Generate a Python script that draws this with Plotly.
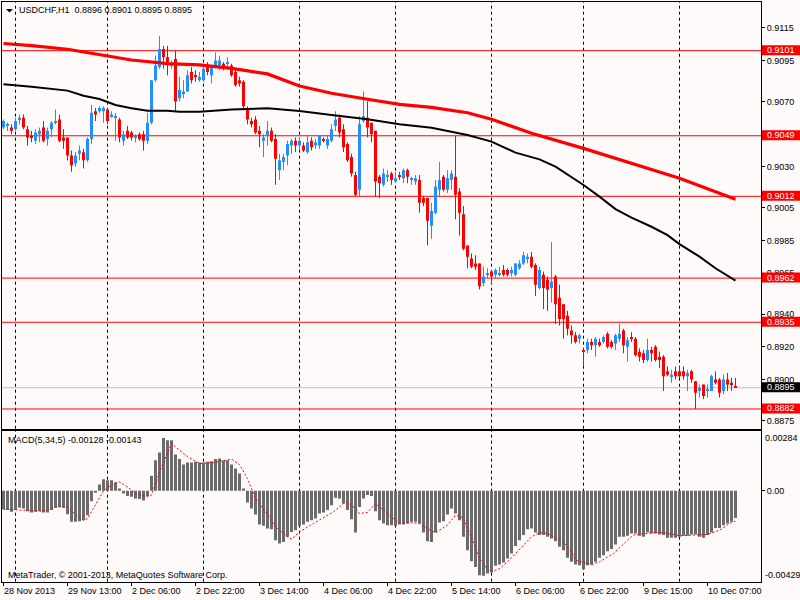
import plotly.graph_objects as go

# ---------------- data ----------------
bar_open = [
    0.9054, 0.9055, 0.9054, 0.9053, 0.9059, 0.9060, 0.9053, 0.9049, 0.9046, 0.9050,
    0.9054, 0.9047, 0.9053, 0.9057, 0.9059, 0.9048, 0.9048, 0.9037, 0.9032, 0.9038,
    0.9039, 0.9034, 0.9047, 0.9064, 0.9064, 0.9064, 0.9065, 0.9061, 0.9060, 0.9059,
    0.9046, 0.9052, 0.9051, 0.9048, 0.9050, 0.9050, 0.9046, 0.9057, 0.9083, 0.9091,
    0.9102, 0.9097, 0.9092, 0.9096, 0.9072, 0.9075, 0.9076, 0.9088, 0.9086, 0.9083,
    0.9083, 0.9092, 0.9086, 0.9091, 0.9092, 0.9093, 0.9093, 0.9092, 0.9088, 0.9083,
    0.9082, 0.9066, 0.9058, 0.9059, 0.9052, 0.9046, 0.9049, 0.9052, 0.9047, 0.9028,
    0.9033, 0.9037, 0.9043, 0.9046, 0.9043, 0.9043, 0.9039, 0.9046, 0.9043, 0.9043,
    0.9047, 0.9043, 0.9046, 0.9055, 0.9060, 0.9053, 0.9044, 0.9036, 0.9025, 0.9016,
    0.9058, 0.9060, 0.9057, 0.9052, 0.9024, 0.9019, 0.9024, 0.9026, 0.9021, 0.9025,
    0.9023, 0.9028, 0.9022, 0.9021, 0.9022, 0.9011, 0.9011, 0.8994, 0.9002, 0.9016,
    0.9024, 0.9016, 0.9022, 0.9024, 0.9015, 0.9001, 0.8982, 0.8974, 0.8971, 0.8971,
    0.8959, 0.8964, 0.8966, 0.8964, 0.8964, 0.8967, 0.8967, 0.8965, 0.8964, 0.8968,
    0.8971, 0.8974, 0.8975, 0.8970, 0.8956, 0.8964, 0.8961, 0.8956, 0.8963, 0.8950,
    0.8946, 0.8939, 0.8930, 0.8927, 0.8925, 0.8918, 0.8918, 0.8923, 0.8921, 0.8923,
    0.8923, 0.8928, 0.8923, 0.8922, 0.8925, 0.8930, 0.8920, 0.8926, 0.8925, 0.8917,
    0.8916, 0.8912, 0.8918, 0.8920, 0.8914, 0.8914, 0.8905, 0.8902, 0.8905, 0.8905,
    0.8905, 0.8902, 0.8905, 0.8899, 0.8893, 0.8897, 0.8893, 0.8893, 0.8900, 0.8900,
    0.8893, 0.8900, 0.8898, 0.8896,
]
bar_high = [
    0.9059, 0.9057, 0.9056, 0.9060, 0.9062, 0.9062, 0.9055, 0.9052, 0.9053, 0.9054,
    0.9058, 0.9054, 0.9058, 0.9065, 0.9062, 0.9053, 0.9048, 0.9040, 0.9039, 0.9043,
    0.9041, 0.9048, 0.9068, 0.9066, 0.9067, 0.9067, 0.9066, 0.9064, 0.9063, 0.9060,
    0.9052, 0.9055, 0.9052, 0.9050, 0.9051, 0.9052, 0.9063, 0.9083, 0.9098, 0.9110,
    0.9104, 0.9104, 0.9095, 0.9101, 0.9085, 0.9083, 0.9089, 0.9091, 0.9089, 0.9088,
    0.9091, 0.9094, 0.9092, 0.9100, 0.9098, 0.9094, 0.9097, 0.9093, 0.9089, 0.9085,
    0.9083, 0.9067, 0.9060, 0.9061, 0.9055, 0.9050, 0.9058, 0.9054, 0.9050, 0.9038,
    0.9038, 0.9046, 0.9047, 0.9048, 0.9048, 0.9045, 0.9049, 0.9048, 0.9047, 0.9049,
    0.9048, 0.9049, 0.9056, 0.9064, 0.9062, 0.9056, 0.9045, 0.9038, 0.9027, 0.9061,
    0.9076, 0.9070, 0.9057, 0.9052, 0.9025, 0.9029, 0.9028, 0.9027, 0.9027, 0.9027,
    0.9029, 0.9029, 0.9024, 0.9025, 0.9025, 0.9012, 0.9011, 0.9008, 0.9022, 0.9033,
    0.9025, 0.9028, 0.9028, 0.9049, 0.9017, 0.9006, 0.8982, 0.8977, 0.8976, 0.8971,
    0.8969, 0.8968, 0.8967, 0.8968, 0.8969, 0.8970, 0.8968, 0.8969, 0.8971, 0.8973,
    0.8978, 0.8977, 0.8978, 0.8971, 0.8969, 0.8966, 0.8963, 0.8984, 0.8964, 0.8958,
    0.8946, 0.8942, 0.8933, 0.8929, 0.8928, 0.8919, 0.8925, 0.8925, 0.8926, 0.8925,
    0.8927, 0.8929, 0.8924, 0.8928, 0.8934, 0.8931, 0.8926, 0.8929, 0.8926, 0.8919,
    0.8918, 0.8925, 0.8920, 0.8921, 0.8917, 0.8915, 0.8908, 0.8906, 0.8908, 0.8908,
    0.8908, 0.8906, 0.8906, 0.8899, 0.8897, 0.8897, 0.8897, 0.8903, 0.8905, 0.8901,
    0.8903, 0.8904, 0.8901, 0.8901,
]
bar_low = [
    0.9053, 0.9052, 0.9050, 0.9052, 0.9056, 0.9053, 0.9043, 0.9045, 0.9044, 0.9045,
    0.9045, 0.9043, 0.9048, 0.9056, 0.9045, 0.9041, 0.9034, 0.9027, 0.9030, 0.9034,
    0.9029, 0.9033, 0.9044, 0.9058, 0.9063, 0.9057, 0.9056, 0.9060, 0.9046, 0.9045,
    0.9043, 0.9047, 0.9046, 0.9045, 0.9046, 0.9040, 0.9044, 0.9056, 0.9082, 0.9090,
    0.9090, 0.9086, 0.9090, 0.9064, 0.9070, 0.9072, 0.9076, 0.9081, 0.9082, 0.9082,
    0.9082, 0.9086, 0.9081, 0.9090, 0.9089, 0.9089, 0.9091, 0.9085, 0.9079, 0.9079,
    0.9066, 0.9056, 0.9054, 0.9050, 0.9042, 0.9036, 0.9043, 0.9045, 0.9019, 0.9022,
    0.9028, 0.9031, 0.9038, 0.9039, 0.9041, 0.9039, 0.9038, 0.9040, 0.9041, 0.9041,
    0.9045, 0.9041, 0.9045, 0.9052, 0.9048, 0.9039, 0.9033, 0.9024, 0.9012, 0.9012,
    0.9057, 0.9048, 0.9045, 0.9012, 0.9011, 0.9018, 0.9021, 0.9019, 0.9020, 0.9022,
    0.9020, 0.9020, 0.9019, 0.9019, 0.9002, 0.9006, 0.8982, 0.8986, 0.9001, 0.9012,
    0.9015, 0.9014, 0.9016, 0.8998, 0.8988, 0.8979, 0.8968, 0.8968, 0.8967, 0.8955,
    0.8957, 0.8962, 0.8958, 0.8962, 0.8963, 0.8963, 0.8963, 0.8963, 0.8963, 0.8967,
    0.8970, 0.8971, 0.8968, 0.8951, 0.8955, 0.8943, 0.8942, 0.8947, 0.8934, 0.8933,
    0.8925, 0.8927, 0.8922, 0.8922, 0.8922, 0.8908, 0.8916, 0.8918, 0.8914, 0.8920,
    0.8922, 0.8919, 0.8919, 0.8918, 0.8923, 0.8916, 0.8911, 0.8923, 0.8914, 0.8911,
    0.8910, 0.8911, 0.8911, 0.8911, 0.8907, 0.8893, 0.8902, 0.8898, 0.8900, 0.8901,
    0.8900, 0.8893, 0.8898, 0.8882, 0.8889, 0.8888, 0.8889, 0.8893, 0.8897, 0.8889,
    0.8891, 0.8893, 0.8893, 0.8895,
]
bar_close = [
    0.9058, 0.9056, 0.9052, 0.9058, 0.9060, 0.9054, 0.9048, 0.9048, 0.9051, 0.9052,
    0.9046, 0.9052, 0.9057, 0.9058, 0.9046, 0.9046, 0.9037, 0.9031, 0.9037, 0.9040,
    0.9034, 0.9047, 0.9063, 0.9062, 0.9066, 0.9066, 0.9058, 0.9062, 0.9061, 0.9048,
    0.9050, 0.9048, 0.9048, 0.9049, 0.9047, 0.9046, 0.9057, 0.9083, 0.9092, 0.9102,
    0.9097, 0.9094, 0.9093, 0.9070, 0.9077, 0.9076, 0.9086, 0.9083, 0.9085, 0.9085,
    0.9090, 0.9088, 0.9091, 0.9095, 0.9095, 0.9090, 0.9094, 0.9086, 0.9080, 0.9081,
    0.9067, 0.9059, 0.9056, 0.9051, 0.9050, 0.9048, 0.9052, 0.9046, 0.9035, 0.9034,
    0.9036, 0.9044, 0.9046, 0.9043, 0.9046, 0.9040, 0.9045, 0.9042, 0.9045, 0.9049,
    0.9046, 0.9047, 0.9053, 0.9059, 0.9051, 0.9042, 0.9034, 0.9026, 0.9013, 0.9056,
    0.9061, 0.9054, 0.9050, 0.9021, 0.9020, 0.9026, 0.9025, 0.9022, 0.9023, 0.9024,
    0.9028, 0.9024, 0.9023, 0.9023, 0.9008, 0.9008, 0.8997, 0.9003, 0.9018, 0.9022,
    0.9016, 0.9023, 0.9026, 0.9013, 0.9002, 0.8980, 0.8975, 0.8969, 0.8969, 0.8957,
    0.8963, 0.8965, 0.8963, 0.8967, 0.8965, 0.8964, 0.8964, 0.8967, 0.8971, 0.8971,
    0.8976, 0.8975, 0.8969, 0.8958, 0.8967, 0.8956, 0.8955, 0.8960, 0.8946, 0.8937,
    0.8937, 0.8931, 0.8927, 0.8923, 0.8927, 0.8917, 0.8923, 0.8921, 0.8925, 0.8921,
    0.8926, 0.8920, 0.8920, 0.8927, 0.8928, 0.8921, 0.8924, 0.8925, 0.8915, 0.8914,
    0.8912, 0.8918, 0.8916, 0.8912, 0.8912, 0.8902, 0.8903, 0.8903, 0.8902, 0.8902,
    0.8902, 0.8904, 0.8900, 0.8892, 0.8895, 0.8890, 0.8894, 0.8902, 0.8898, 0.8892,
    0.8900, 0.8897, 0.8897, 0.8895,
]

# moving averages (read at sampled bars)
ma_red_idx = [0, 7, 16, 24, 32, 41, 49, 57, 66, 74, 82, 91, 99, 107, 116, 122, 132,
              145, 157, 169, 178, 183]
ma_red_val = [0.91054, 0.91041, 0.91019, 0.90984, 0.90953, 0.90931, 0.90923, 0.90902,
              0.90868, 0.90794, 0.90750, 0.90713, 0.90682, 0.90664, 0.90631, 0.90591,
              0.90505, 0.90413, 0.90322, 0.90230, 0.90148, 0.90102]
ma_blk_idx = [0, 7, 16, 20, 24, 28, 32, 36, 41, 44, 49, 57, 66, 74, 82, 91, 99, 107,
              116, 122, 128, 134, 138, 145, 149, 153, 157, 162, 166, 169, 174, 178, 183]
ma_blk_val = [0.90805, 0.90790, 0.90766, 0.90735, 0.90715, 0.90678, 0.90658, 0.90643,
              0.90643, 0.90637, 0.90637, 0.90651, 0.90658, 0.90641, 0.90617, 0.90591,
              0.90561, 0.90539, 0.90495, 0.90454, 0.90387, 0.90346, 0.90301, 0.90189,
              0.90118, 0.90042, 0.89990, 0.89934, 0.89883, 0.89828, 0.89751, 0.89680,
              0.89604]

# horizontal levels and bid
levels = [0.9101, 0.9049, 0.9012, 0.8962, 0.8935, 0.8882]
bid = 0.8895

# MACD(5,34,5) histogram (main line) per bar
macd_main = [
    -0.00087, -0.00091, -0.00099, -0.00091, -0.00080, -0.00083, -0.00096, -0.00102, -0.00099, -0.00096,
    -0.00102, -0.00102, -0.00091, -0.00080, -0.00076, -0.00080, -0.00110, -0.00146, -0.00146, -0.00143,
    -0.00139, -0.00115, -0.00049, -0.00005, 0.00030, 0.00055, 0.00050, 0.00050, 0.00039, 0.00011,
    -0.00013, -0.00024, -0.00028, -0.00036, -0.00039, -0.00046, -0.00024, 0.00071, 0.00145, 0.00181,
    0.00250, 0.00239, 0.00239, 0.00172, 0.00150, 0.00124, 0.00134, 0.00134, 0.00137, 0.00134,
    0.00134, 0.00137, 0.00140, 0.00150, 0.00153, 0.00145, 0.00145, 0.00124, 0.00105, 0.00082,
    0.00011, -0.00055, -0.00083, -0.00112, -0.00159, -0.00165, -0.00178, -0.00181, -0.00233, -0.00249,
    -0.00241, -0.00217, -0.00194, -0.00186, -0.00165, -0.00159, -0.00146, -0.00139, -0.00131, -0.00107,
    -0.00102, -0.00091, -0.00068, -0.00033, -0.00036, -0.00060, -0.00091, -0.00134, -0.00197, -0.00076,
    -0.00036, -0.00020, -0.00024, -0.00096, -0.00139, -0.00154, -0.00162, -0.00162, -0.00165, -0.00159,
    -0.00159, -0.00154, -0.00146, -0.00146, -0.00154, -0.00197, -0.00238, -0.00241, -0.00197, -0.00150,
    -0.00143, -0.00112, -0.00083, -0.00107, -0.00139, -0.00217, -0.00280, -0.00332, -0.00359, -0.00398,
    -0.00401, -0.00390, -0.00386, -0.00354, -0.00348, -0.00338, -0.00320, -0.00296, -0.00260, -0.00233,
    -0.00209, -0.00181, -0.00178, -0.00197, -0.00209, -0.00209, -0.00217, -0.00225, -0.00238, -0.00264,
    -0.00280, -0.00316, -0.00335, -0.00348, -0.00351, -0.00370, -0.00351, -0.00348, -0.00335, -0.00316,
    -0.00304, -0.00285, -0.00275, -0.00253, -0.00217, -0.00217, -0.00212, -0.00201, -0.00201, -0.00212,
    -0.00217, -0.00197, -0.00201, -0.00201, -0.00206, -0.00209, -0.00222, -0.00222, -0.00222, -0.00217,
    -0.00212, -0.00212, -0.00206, -0.00206, -0.00217, -0.00222, -0.00209, -0.00197, -0.00175, -0.00175,
    -0.00162, -0.00154, -0.00146, -0.00128,
]
# MACD signal line (read at sampled bars)
macd_sig_idx = [0, 10, 13, 16, 18, 20, 21, 23, 25, 27.5, 29, 31, 33, 36, 37, 39, 41, 42, 44, 46,
                47.5, 49, 52.5, 57, 59, 61, 63, 66, 68, 71, 72, 74, 77.5, 82.5, 85, 86, 88, 89, 91, 93,
                96, 99, 102, 104, 107, 108, 111, 113, 115, 116, 117.5, 119, 121, 122, 124, 126, 128,
                130, 132, 134, 136, 137.5, 140, 142, 143, 146, 147, 149, 152.5, 156, 157.5, 162.5,
                165, 169, 174, 176, 179, 181.5, 183]
macd_sig_val = [-0.00087, -0.00096, -0.00076, -0.00076, -0.00112, -0.00139, -0.00131, -0.00068, 0.00000, 0.00035,
                0.00042, 0.00019, -0.00013, -0.00028, -0.00020, 0.00090, 0.00184, 0.00224, 0.00192, 0.00161,
                0.00145, 0.00129, 0.00134, 0.00150, 0.00124, 0.00058, -0.00036, -0.00112, -0.00170, -0.00217,
                -0.00228, -0.00194, -0.00154, -0.00099, -0.00060, -0.00055, -0.00083, -0.00107, -0.00102, -0.00060,
                -0.00107, -0.00154, -0.00150, -0.00154, -0.00190, -0.00197, -0.00162, -0.00115, -0.00127, -0.00178,
                -0.00241, -0.00320, -0.00370, -0.00382, -0.00367, -0.00335, -0.00296, -0.00257, -0.00217, -0.00197,
                -0.00201, -0.00217, -0.00241, -0.00288, -0.00327, -0.00343, -0.00348, -0.00335, -0.00296, -0.00233,
                -0.00209, -0.00197, -0.00197, -0.00212, -0.00206, -0.00206, -0.00186, -0.00154, -0.00143]
macd_max, macd_min = 0.00284, -0.00429

# axis labels
price_ticks = [0.9115, 0.9095, 0.9070, 0.9050, 0.9030, 0.9005, 0.8985, 0.8965,
               0.8940, 0.8920, 0.8900, 0.8875]
time_label_idx = [0, 16, 32, 48, 64, 80, 96, 112, 128, 144, 160, 176]
time_labels = ["28 Nov 2013", "29 Nov 13:00", "2 Dec 06:00", "2 Dec 22:00", "3 Dec 14:00",
               "4 Dec 06:00", "4 Dec 22:00", "5 Dec 14:00", "6 Dec 06:00", "6 Dec 22:00",
               "9 Dec 15:00", "10 Dec 07:00"]
day_sep_idx = [3, 26, 50, 74, 98, 122, 145, 169]

header_text = "USDCHF,H1\u00a0\u00a00.8896 0.8901 0.8895 0.8895"
macd_text = "MACD(5,34,5) -0.00128 -0.00143"
copyright_text = "MetaTrader, \u00a9 2001-2013, MetaQuotes Software Corp."

# ---------------- styling / layout ----------------
W, H = 800, 600
BG = "#FFFAFA"
BLUE = "#1E90FF"
RED = "#FF0000"
GRAY = "#6B6B6B"
FONT = "Liberation Sans"
FS = 9

L_PX, R_PX = 2, 761
MAIN_TOP, MAIN_BOT = 2, 428.7
MACD_TOP, MACD_BOT = 430.7, 581.7
X_RANGE = [-0.375, 189.375]
Y_RANGE = [0.886995, 0.913077]


def px_x(p):
    return p / W


def px_y(p):
    return 1 - p / H


fig = go.Figure()

n = len(bar_open)
up = [i for i in range(n) if bar_close[i] >= bar_open[i]]
dn = [i for i in range(n) if bar_close[i] < bar_open[i]]

for sel, col in ((up, BLUE), (dn, RED)):
    wx, wy = [], []
    for i in sel:
        wx += [i, i, None]
        wy += [bar_low[i], bar_high[i], None]
    fig.add_trace(go.Scatter(x=wx, y=wy, mode="lines", line=dict(color=col, width=1),
                             hoverinfo="skip", xaxis="x", yaxis="y"))
    fig.add_trace(go.Bar(x=sel,
                         y=[abs(bar_close[i] - bar_open[i]) for i in sel],
                         base=[min(bar_open[i], bar_close[i]) for i in sel],
                         width=0.75, marker=dict(color=col, line=dict(width=0)),
                         xaxis="x", yaxis="y"))

fig.add_trace(go.Scatter(x=ma_blk_idx, y=ma_blk_val, mode="lines",
                         line=dict(color="black", width=2), xaxis="x", yaxis="y"))
fig.add_trace(go.Scatter(x=ma_red_idx, y=ma_red_val, mode="lines",
                         line=dict(color=RED, width=3.2), xaxis="x", yaxis="y"))

# MACD
fig.add_trace(go.Bar(x=list(range(n)), y=macd_main, width=0.75,
                     marker=dict(color=GRAY, line=dict(width=0)), xaxis="x2", yaxis="y2"))
fig.add_trace(go.Scatter(x=macd_sig_idx, y=macd_sig_val, mode="lines",
                         line=dict(color=RED, width=1, dash="2px,2px"), xaxis="x2", yaxis="y2"))

shapes = []
# day separators
for d in day_sep_idx:
    for yr in ("y domain", "y2 domain"):
        xr = "x" if yr == "y domain" else "x2"
        shapes.append(dict(type="line", xref=xr, yref=yr, x0=d, x1=d, y0=0, y1=1,
                           line=dict(color="black", width=1, dash="3px,3px"), layer="below"))
# level lines
for lv in levels:
    shapes.append(dict(type="line", xref="x domain", yref="y", x0=0, x1=1, y0=lv, y1=lv,
                       line=dict(color=RED, width=1), layer="below"))
shapes.append(dict(type="line", xref="x domain", yref="y", x0=0, x1=1, y0=bid, y1=bid,
                   line=dict(color="#C0C0C0", width=1), layer="below"))

annotations = []
# price label boxes
for lv, col in [(v, RED) for v in levels] + [(bid, "black")]:
    shapes.append(dict(type="rect", xref="paper", yref="y", x0=px_x(762), x1=1,
                       ysizemode="pixel", yanchor=lv, y0=-4.5, y1=5.5,
                       fillcolor=col, line=dict(width=0), layer="above"))
    annotations.append(dict(xref="paper", yref="y", x=px_x(781), y=lv, yshift=0.5,
                            text=f"{lv:.4f}", showarrow=False, xanchor="center",
                            yanchor="middle", font=dict(family=FONT, size=FS, color="white")))

# header triangle
shapes.append(dict(type="path", xref="paper", yref="paper",
                   path=f"M {px_x(6)},{px_y(9)} L {px_x(13)},{px_y(9)} L {px_x(9.5)},{px_y(12.5)} Z",
                   fillcolor="black", line=dict(width=0), layer="above"))

annotations.append(dict(xref="paper", yref="paper", x=px_x(17), y=px_y(10.5), text=header_text,
                        showarrow=False, xanchor="left", yanchor="middle",
                        font=dict(family=FONT, size=FS, color="black")))
annotations.append(dict(xref="paper", yref="paper", x=px_x(6), y=px_y(440), text=macd_text,
                        showarrow=False, xanchor="left", yanchor="middle",
                        font=dict(family=FONT, size=FS, color="black")))
annotations.append(dict(xref="paper", yref="paper", x=px_x(6), y=px_y(575), text=copyright_text,
                        showarrow=False, xanchor="left", yanchor="middle",
                        font=dict(family=FONT, size=FS, color="black")))
# MACD scale extremes
annotations.append(dict(xref="paper", yref="y2", x=px_x(763), y=macd_max, text=f"{macd_max:.5f}",
                        showarrow=False, xanchor="left", yanchor="top",
                        font=dict(family=FONT, size=FS, color="black")))
annotations.append(dict(xref="paper", yref="y2", x=px_x(763), y=macd_min, text=f"{macd_min:.5f}",
                        showarrow=False, xanchor="left", yanchor="bottom",
                        font=dict(family=FONT, size=FS, color="black")))
# time labels (left-aligned at their tick)
for ix, lab in zip(time_label_idx, time_labels):
    annotations.append(dict(xref="x2", yref="paper", x=ix, y=px_y(591), text=lab,
                            showarrow=False, xanchor="left", yanchor="middle", xshift=-2,
                            font=dict(family=FONT, size=FS, color="black")))

axis_common = dict(showgrid=False, zeroline=False, showline=True, linecolor="black",
                   linewidth=1, mirror=True, fixedrange=True)

fig.update_layout(
    width=W, height=H, autosize=False,
    margin=dict(l=0, r=0, t=0, b=0, pad=0),
    paper_bgcolor=BG, plot_bgcolor=BG,
    showlegend=False, barmode="overlay",
    font=dict(family=FONT, size=FS, color="black"),
    xaxis=dict(domain=[px_x(L_PX), px_x(R_PX)], range=X_RANGE, anchor="y",
               showticklabels=False, ticks="", **axis_common),
    yaxis=dict(domain=[px_y(MAIN_BOT), px_y(MAIN_TOP)], range=Y_RANGE, anchor="x",
               side="right", tickmode="array", tickvals=price_ticks,
               ticktext=[f"{v:.4f}" for v in price_ticks], ticks="outside", ticklen=3,
               tickcolor="black", tickfont=dict(family=FONT, size=FS, color="black"),
               **axis_common),
    xaxis2=dict(domain=[px_x(L_PX), px_x(R_PX)], range=X_RANGE, anchor="y2",
                tickmode="array", tickvals=time_label_idx, ticks="outside", ticklen=3,
                tickcolor="black", showticklabels=False, **axis_common),
    yaxis2=dict(domain=[px_y(MACD_BOT), px_y(MACD_TOP)], range=[macd_min, macd_max],
                anchor="x2", side="right", tickmode="array", tickvals=[0], ticktext=["0.00"],
                ticks="outside", ticklen=3, tickcolor="black",
                tickfont=dict(family=FONT, size=FS, color="black"), **axis_common),
    shapes=shapes,
    annotations=annotations,
)

fig.write_html(
    "out.html",
    config={"displayModeBar": False},
    post_script="document.body.style.margin='0';document.body.style.overflow='hidden';",
)
